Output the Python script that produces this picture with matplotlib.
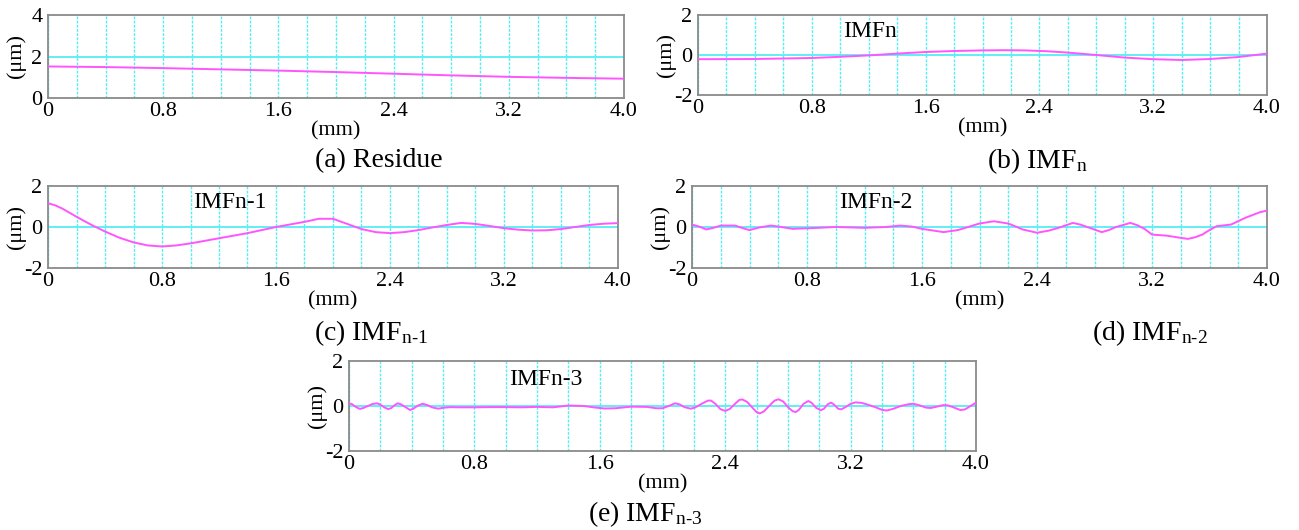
import matplotlib
matplotlib.use('Agg')
import matplotlib.pyplot as plt
from matplotlib.ticker import MultipleLocator

matplotlib.rcParams['font.family'] = 'Liberation Serif'
matplotlib.rcParams['mathtext.fontset'] = 'stix'
matplotlib.rcParams['font.size'] = 16

# values: x in mm, y in um
res_x = [0, 0.4, 0.8, 1.2, 1.6, 2.0, 2.4, 2.8, 3.2, 3.6, 4.0]
res_y = [1.52, 1.49, 1.44, 1.38, 1.32, 1.25, 1.17, 1.09, 1.02, 0.97, 0.93]

imfn_x = [0, 0.4, 0.8, 1.0, 1.2, 1.4, 1.6, 1.8, 2.0, 2.15, 2.3, 2.45, 2.6, 2.8, 3.0, 3.2, 3.4, 3.6, 3.8, 4.0]
imfn_y = [-0.21, -0.2, -0.15, -0.09, -0.02, 0.07, 0.15, 0.2, 0.23, 0.24, 0.23, 0.19, 0.12, 0.0, -0.13, -0.21, -0.25, -0.2, -0.1, 0.07]

imf1_x = [0, 0.05, 0.1, 0.2, 0.3, 0.4, 0.5, 0.6, 0.7, 0.8, 0.9, 1.0, 1.2, 1.4, 1.6, 1.8, 1.9, 2.0, 2.1, 2.2, 2.3,
          2.4, 2.5, 2.6, 2.7, 2.8, 2.9, 3.0, 3.1, 3.2, 3.3, 3.4, 3.5, 3.6, 3.7, 3.8, 3.9, 4.0]
imf1_y = [1.16, 1.06, 0.9, 0.5, 0.12, -0.22, -0.52, -0.75, -0.9, -0.95, -0.9, -0.8, -0.55, -0.3, 0.0, 0.25, 0.4, 0.4, 0.15, -0.1, -0.25,
          -0.3, -0.25, -0.15, -0.02, 0.1, 0.2, 0.15, 0.05, -0.06, -0.13, -0.17, -0.16, -0.1, 0.0, 0.1, 0.16, 0.19]

imf2_x = [0, 0.05, 0.1, 0.15, 0.2, 0.3, 0.35, 0.4, 0.47, 0.55, 0.62, 0.7, 0.85, 1.0, 1.2, 1.35, 1.45, 1.53, 1.6, 1.75,
          1.85, 1.93, 2.0, 2.1, 2.2, 2.25, 2.3, 2.4, 2.48, 2.55, 2.65, 2.7, 2.75, 2.85, 2.9, 2.95, 3.05, 3.1, 3.15, 3.2,
          3.3, 3.4, 3.45, 3.5, 3.55, 3.6, 3.65, 3.75, 3.85, 3.95, 4.0]
imf2_y = [0.12, 0.02, -0.12, -0.04, 0.07, 0.07, -0.05, -0.15, -0.02, 0.07, 0.0, -0.09, -0.05, 0.0, -0.04, 0.0, 0.07, 0.02, -0.09, -0.25,
          -0.15, 0.02, 0.17, 0.28, 0.17, 0.03, -0.12, -0.28, -0.18, -0.04, 0.2, 0.12, 0.0, -0.25, -0.15, 0.0, 0.2, 0.08, -0.1, -0.37,
          -0.42, -0.53, -0.58, -0.5, -0.37, -0.15, 0.04, 0.12, 0.45, 0.72, 0.8]

imf3_x = [0.0, 0.02, 0.045, 0.07, 0.095, 0.12, 0.15, 0.18, 0.2, 0.225, 0.25, 0.27, 0.29, 0.31, 0.33, 0.36, 0.39, 0.41,
          0.44, 0.47, 0.5, 0.53, 0.57, 0.6, 0.65, 0.7, 0.8, 0.9, 1.0, 1.1, 1.2, 1.3, 1.4, 1.5, 1.57, 1.63, 1.7, 1.8,
          1.9, 1.96, 2.0, 2.04, 2.08, 2.11, 2.14, 2.18, 2.21, 2.25, 2.29, 2.31, 2.34, 2.37, 2.4, 2.43, 2.46, 2.49,
          2.51, 2.54, 2.57, 2.6, 2.62, 2.645, 2.68, 2.715, 2.74, 2.77, 2.8, 2.83, 2.85, 2.87, 2.9, 2.93, 2.95, 2.98,
          3.01, 3.03, 3.055, 3.075, 3.095, 3.12, 3.14, 3.17, 3.2, 3.23, 3.27, 3.31, 3.36, 3.4, 3.43, 3.47, 3.52,
          3.57, 3.6, 3.64, 3.68, 3.71, 3.75, 3.79, 3.82, 3.86, 3.9, 3.93, 3.97, 4.0]
imf3_y = [0.12, 0.08, -0.05, -0.13, -0.08, 0.0, 0.09, 0.12, 0.06, -0.06, -0.14, -0.09, 0.03, 0.12, 0.08, -0.05, -0.18, -0.12,
          0.02, 0.1, 0.04, -0.06, -0.12, -0.08, -0.05, -0.06, -0.06, -0.05, -0.05, -0.06, -0.04, -0.06, 0.02, 0.0, -0.07, -0.11, -0.1, -0.03,
          -0.04, -0.1, -0.1, 0.0, 0.12, 0.07, -0.05, -0.12, -0.06, 0.1, 0.24, 0.24, 0.08, -0.14, -0.22, -0.13, 0.08, 0.27,
          0.29, 0.18, -0.05, -0.27, -0.33, -0.25, 0.0, 0.24, 0.3, 0.2, -0.05, -0.23, -0.27, -0.17, 0.1, 0.22, 0.15, -0.08,
          -0.19, -0.12, 0.08, 0.15, 0.06, -0.12, -0.15, -0.04, 0.1, 0.16, 0.14, 0.06, -0.06, -0.17, -0.2, -0.13, 0.0,
          0.08, 0.1, 0.03, -0.07, -0.09, -0.03, 0.04, 0.03, -0.07, -0.18, -0.15, 0.02, 0.15]

x_ticks = [0, 0.8, 1.6, 2.4, 3.2, 4.0]
x_labels = ['0', '0.8', '1.6', '2.4', '3.2', '4.0']

W, H = 1299, 530


def px_axes(fig, left, top, right, bottom):
    return fig.add_axes([left / W, 1 - bottom / H, (right - left) / W, (bottom - top) / H])


def draw_panel(ax, xs, ys, ylim, label=None):
    ax.plot(xs, ys, color='#ff55ff', lw=1.4, zorder=3)
    ax.set_xlim(0, 4.0)
    ax.set_ylim(*ylim)
    ax.set_xticks(x_ticks)
    ax.set_xticklabels(x_labels)
    ax.set_yticks([ylim[0], (ylim[0] + ylim[1]) / 2, ylim[1]])
    ax.set_yticklabels(['%g' % v for v in ax.get_yticks()])
    ax.xaxis.set_minor_locator(MultipleLocator(0.2))
    ax.tick_params(which='both', length=0)
    ax.tick_params(axis='x', pad=3)
    ax.tick_params(axis='y', pad=4)
    ax.grid(axis='x', which='both', color='#55eef5', ls=(0, (2, 1)), lw=1.0)
    ax.axhline((ylim[0] + ylim[1]) / 2, color='#55eef5', lw=1.3, zorder=1)
    for s in ax.spines.values():
        s.set_color('#8a8a8a')
        s.set_linewidth(1.3)
    bb = ax.get_position()
    wpx, hpx = bb.width * W, bb.height * H
    ax.set_ylabel('(μm)', va='center')
    ax.yaxis.set_label_coords(-32 / wpx, 0.5)
    ax.set_xlabel('(mm)', va='center')
    ax.xaxis.set_label_coords(0.5, -33 / hpx)
    if label:
        ax.text(1.02, 1.18, label, fontsize=17, va='center', ha='left')


fig = plt.figure(figsize=(W / 100, H / 100), dpi=100)

ax_a = px_axes(fig, 48, 15, 624, 98)
draw_panel(ax_a, res_x, res_y, (0, 4))
ax_b = px_axes(fig, 698, 15, 1267, 95)
draw_panel(ax_b, imfn_x, imfn_y, (-2, 2), 'IMFn')
ax_c = px_axes(fig, 48, 186, 618, 268)
draw_panel(ax_c, imf1_x, imf1_y, (-2, 2), 'IMFn-1')
ax_d = px_axes(fig, 692, 186, 1267, 268)
draw_panel(ax_d, imf2_x, imf2_y, (-2, 2), 'IMFn-2')
ax_e = px_axes(fig, 349, 361, 976, 451)
draw_panel(ax_e, imf3_x, imf3_y, (-2, 2), 'IMFn-3')

cap = dict(fontsize=20, ha='center', va='center')
fig.text(379 / W, 1 - 161 / H, '(a) Residue', **cap)
fig.text(1037 / W, 1 - 161 / H, r'(b) IMF$_\mathregular{n}$', **cap)
fig.text(371 / W, 1 - 333 / H, r'(c) IMF$_\mathregular{n\text{-}1}$', **cap)
fig.text(1150 / W, 1 - 333 / H, r'(d) IMF$_\mathregular{n\text{-}2}$', **cap)
fig.text(645 / W, 1 - 514 / H, r'(e) IMF$_\mathregular{n\text{-}3}$', **cap)

fig.savefig('out.png', dpi=100)
